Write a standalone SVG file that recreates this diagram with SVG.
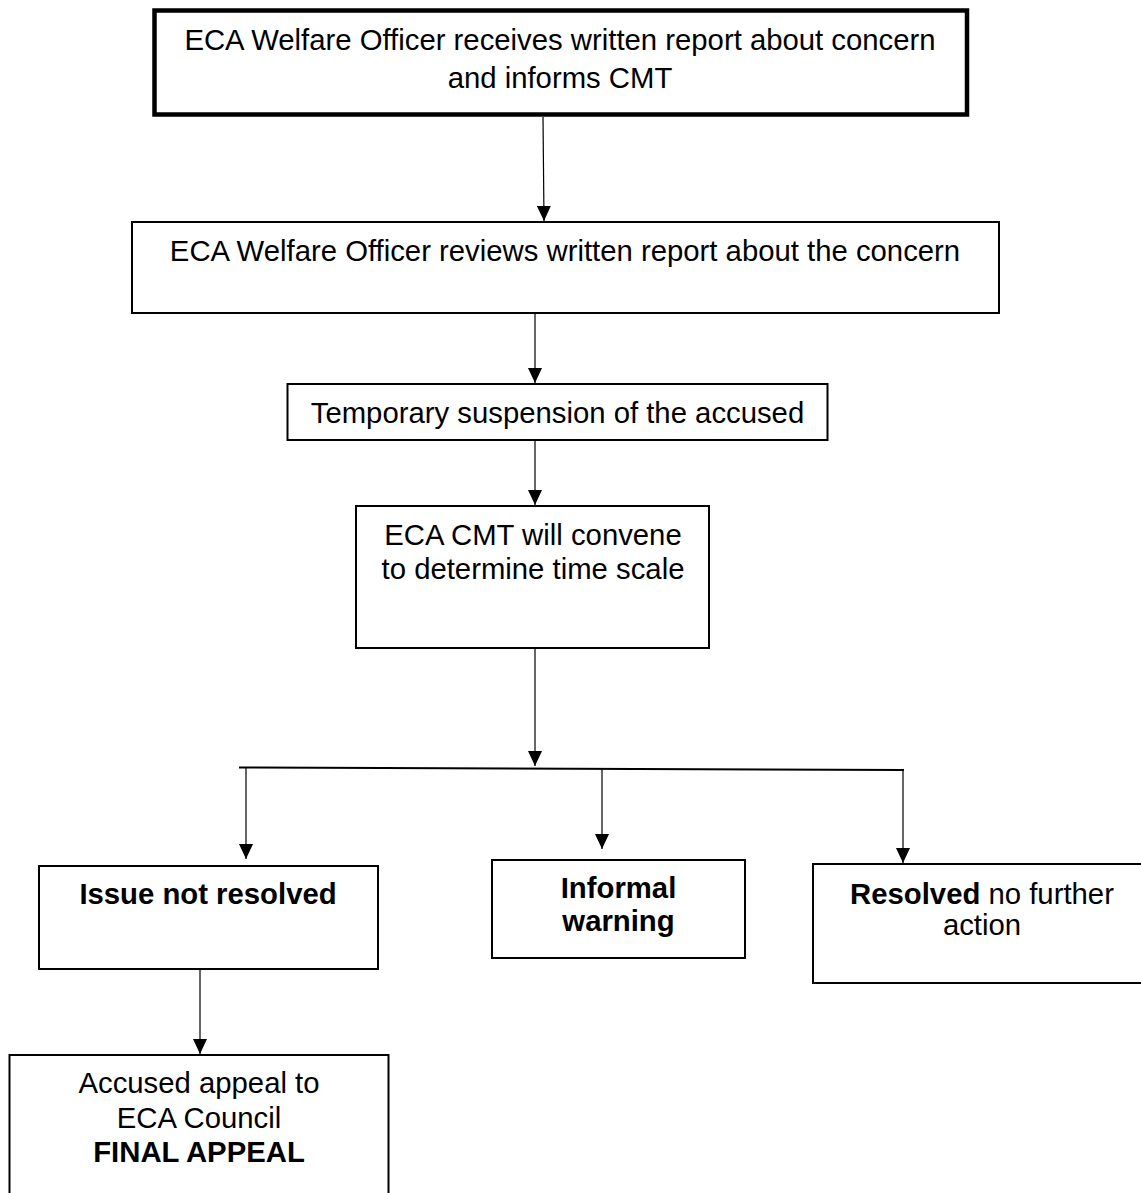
<svg xmlns="http://www.w3.org/2000/svg" width="1141" height="1193" viewBox="0 0 1141 1193">
<defs>
<style>
.box{fill:#fff;stroke:#000;stroke-width:2}
.thick{fill:#fff;stroke:#000;stroke-width:4.5}
.t{font-family:"Liberation Sans",Arial,sans-serif;font-size:29.3px;fill:#000;text-anchor:middle}
.b{font-weight:bold}
.c{fill:none;stroke:#000;stroke-width:1.2}
.h{fill:none;stroke:#000;stroke-width:2}
</style>
<marker id="arr" viewBox="0 0 15 14" markerWidth="15" markerHeight="14" refX="15" refY="7" orient="auto" markerUnits="userSpaceOnUse">
<path d="M0,0 L15,7 L0,14 z" fill="#000"/>
</marker>
</defs>
<rect width="1141" height="1193" fill="#fff"/>
<g id="connectors">
<line class="c" x1="543" y1="117" x2="544" y2="221" marker-end="url(#arr)"/>
<line class="c" x1="535" y1="313" x2="535" y2="383" marker-end="url(#arr)"/>
<line class="c" x1="535" y1="440" x2="535" y2="505" marker-end="url(#arr)"/>
<line class="c" x1="535" y1="648" x2="535" y2="766" marker-end="url(#arr)"/>
<line class="h" x1="239" y1="767.5" x2="904" y2="770"/>
<line class="c" x1="246" y1="767.5" x2="246" y2="859" marker-end="url(#arr)"/>
<line class="c" x1="602" y1="769" x2="602" y2="849" marker-end="url(#arr)"/>
<line class="c" x1="903" y1="770" x2="903" y2="863" marker-end="url(#arr)"/>
<line class="c" x1="200" y1="969" x2="200" y2="1054" marker-end="url(#arr)"/>
</g>
<g id="n1">
<rect class="thick" x="154.5" y="10.5" width="812.5" height="104"/>
<text class="t" x="560" y="50">ECA Welfare Officer receives written report about concern</text>
<text class="t" x="560" y="88">and informs CMT</text>
</g>
<g id="n2">
<rect class="box" x="132" y="222" width="867" height="91"/>
<text class="t" x="565" y="261">ECA Welfare Officer reviews written report about the concern</text>
</g>
<g id="n3">
<rect class="box" x="287.5" y="384" width="540" height="56"/>
<text class="t" x="557.5" y="422.5">Temporary suspension of the accused</text>
</g>
<g id="n4">
<rect class="box" x="356" y="506" width="353" height="142"/>
<text class="t" x="533" y="545">ECA CMT will convene</text>
<text class="t" x="533" y="578.5">to determine time scale</text>
</g>
<g id="n5">
<rect class="box" x="39" y="866" width="339" height="103"/>
<text class="t b" x="208" y="904">Issue not resolved</text>
</g>
<g id="n6">
<rect class="box" x="492" y="860" width="253" height="98"/>
<text class="t b" x="618.5" y="898">Informal</text>
<text class="t b" x="618.5" y="931">warning</text>
</g>
<g id="n7">
<rect class="box" x="813" y="864" width="338" height="119"/>
<text class="t" x="982" y="904"><tspan class="b">Resolved</tspan> no further</text>
<text class="t" x="982" y="935">action</text>
</g>
<g id="n8">
<rect class="box" x="9.5" y="1055" width="379" height="160"/>
<text class="t" x="199" y="1093">Accused appeal to</text>
<text class="t" x="199" y="1128">ECA Council</text>
<text class="t b" x="199" y="1162">FINAL APPEAL</text>
</g>
</svg>
